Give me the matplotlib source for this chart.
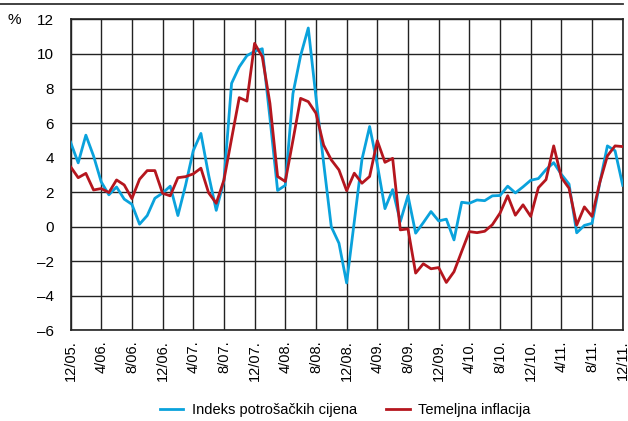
import matplotlib
matplotlib.use("Agg")
import matplotlib.pyplot as plt
from matplotlib.lines import Line2D
import numpy as np

plt.rcParams['font.family'] = ['Liberation Sans', 'DejaVu Sans']

tick_labels = ["12/05.", "4/06.", "8/06.", "12/06.", "4/07.", "8/07.", "12/07.",
               "4/08.", "8/08.", "12/08.", "4/09.", "8/09.", "12/09.", "4/10.",
               "8/10.", "12/10.", "4/11.", "8/11.", "12/11."]

cpi = [4.9, 3.7, 5.3, 4.1, 2.6, 1.85, 2.3, 1.6, 1.3, 0.15, 0.65, 1.65, 1.95, 2.35,
       0.65, 2.4, 4.4, 5.4, 3.0, 0.95, 2.65, 8.3, 9.25, 9.9, 10.15, 10.3, 6.3, 2.1,
       2.4, 7.7, 9.9, 11.5, 7.5, 3.7, 0.0, -0.95, -3.25, 0.3, 3.9, 5.8, 3.6, 1.05,
       2.15, 0.3, 1.8, -0.37, 0.24, 0.88, 0.34, 0.44, -0.76, 1.42, 1.36, 1.55, 1.51,
       1.79, 1.81, 2.35, 1.96, 2.31, 2.69, 2.79, 3.31, 3.71, 3.03, 2.47, -0.35, 0.08,
       0.2, 2.52, 4.68, 4.4, 2.4]

core = [3.48, 2.84, 3.09, 2.13, 2.21, 1.98, 2.71, 2.42, 1.63, 2.75, 3.25, 3.25, 1.94,
        1.79, 2.84, 2.9, 3.06, 3.39, 1.97, 1.36, 2.7, 5.1, 7.47, 7.27, 10.61, 9.84,
        7.14, 2.91, 2.62, 5.0, 7.43, 7.24, 6.57, 4.73, 3.87, 3.29, 2.09, 3.1, 2.52,
        2.91, 4.98, 3.73, 3.96, -0.18, -0.12, -2.68, -2.14, -2.43, -2.36, -3.22, -2.6,
        -1.43, -0.28, -0.34, -0.26, 0.12, 0.79, 1.8, 0.67, 1.27, 0.6, 2.26, 2.73, 4.68,
        2.85, 2.23, 0.1, 1.15, 0.6, 2.55, 4.1, 4.68, 4.64]

series_names = ["Indeks potrošačkih cijena", "Temeljna inflacija"]
colors = ["#0AA2DC", "#B5161E"]

fig = plt.figure(figsize=(6.28, 4.21), dpi=100)
ax = fig.add_axes([0.1123, 0.215, 0.8793, 0.739])

x = np.arange(len(cpi))
ax.plot(x, cpi, color=colors[0], lw=2.0, label=series_names[0], zorder=3)
ax.plot(x, core, color=colors[1], lw=2.0, label=series_names[1], zorder=4)

ax.set_xlim(0, len(cpi) - 1)
ax.set_ylim(-6, 12)
ax.set_xticks(np.arange(0, len(cpi), 4))
ax.set_xticklabels(tick_labels, rotation=90, fontsize=10.5)
ax.set_yticks(np.arange(-6, 13, 2))
ax.set_yticklabels([str(v).replace('-', '\u2013') for v in range(-6, 13, 2)], fontsize=11)
ax.tick_params(length=0, pad=7)
ax.tick_params(axis='y', pad=12)
ax.grid(True, color='#222222', lw=1.0)
ax.set_axisbelow(True)
for s in ax.spines.values():
    s.set_color('#222222')
    s.set_linewidth(1.2)

fig.text(0.012, 0.953, "%", fontsize=11, ha='left', va='center')
fig.add_artist(Line2D([0, 0.992], [0.99, 0.99], color='#333333', lw=1.3,
                      transform=fig.transFigure))

fig.legend(loc='center', bbox_to_anchor=(0.55, 0.025), ncol=2, frameon=False,
           fontsize=10.5, handlelength=1.6, handletextpad=0.6, columnspacing=2.0)

fig.savefig("out.png", dpi=100)
